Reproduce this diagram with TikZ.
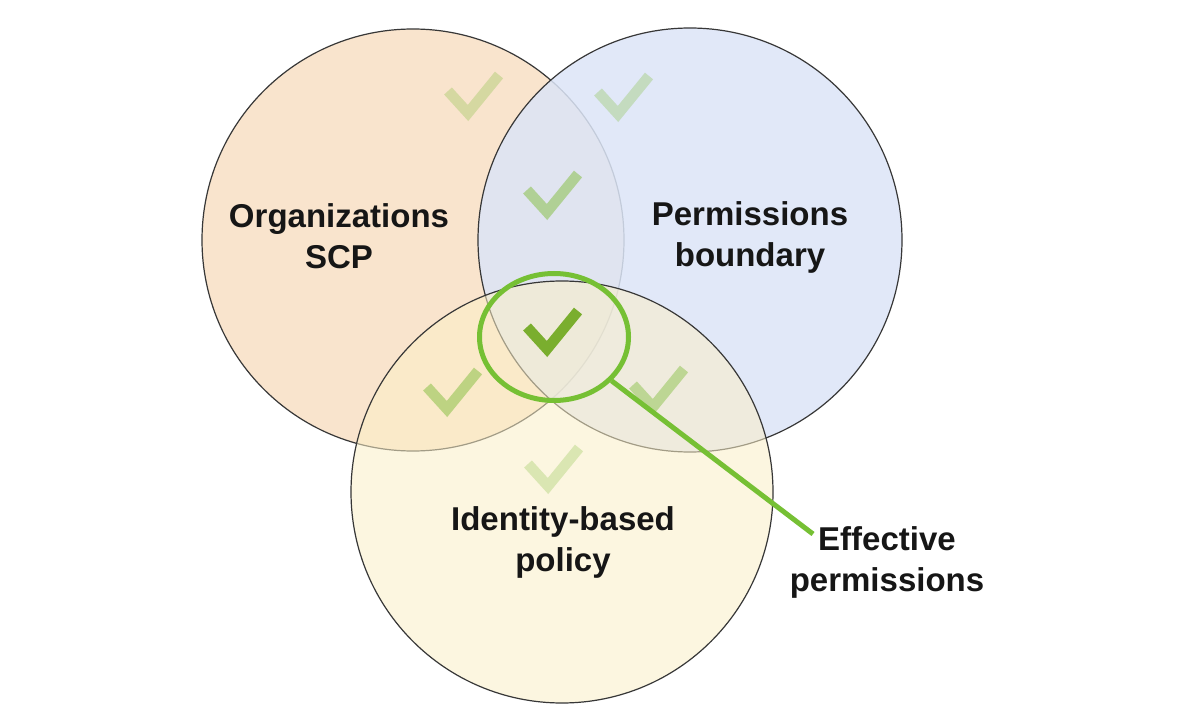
\documentclass[tikz,border=0pt]{standalone}
\usepackage{fontspec}
\setmainfont{Liberation Sans}
\usetikzlibrary{shapes.geometric}
\definecolor{scpfill}{RGB}{249,228,205}
\definecolor{pbfill}{RGB}{220,229,247}
\definecolor{idfill}{RGB}{251,239,199}
\definecolor{rimcol}{RGB}{55,55,55}
\definecolor{tickgreen}{RGB}{130,190,60}
\definecolor{darktick}{RGB}{122,174,46}
\definecolor{effgreen}{RGB}{118,192,52}
\definecolor{txtcol}{RGB}{22,22,22}
\begin{document}
\begin{tikzpicture}[x=1pt,y=-1pt,
  setcircle/.style={circle, draw=rimcol, line width=1.2pt, minimum size=#1, inner sep=0pt, outer sep=0pt},
  lbl/.style={font=\bfseries\fontsize{33}{41}\selectfont, align=center, text=txtcol, inner sep=0pt},
  tick/.style={line width=10.5pt, line cap=butt, line join=miter},
  effring/.style={ellipse, draw=effgreen, line width=5pt, minimum width=149pt, minimum height=127pt, inner sep=0pt},
  effline/.style={draw=effgreen, line width=5pt},
  pics/chk/.style={code={\draw[tick] (-20,-22) -- (0,0) -- (31,-38);}}
]
\fill[white] (0,0) rectangle (1202,722);
\useasboundingbox (0,0) rectangle (1202,722);

% circles
\node[setcircle=422pt, fill=scpfill] (scp) at (413,240) {};
\node[setcircle=424pt, fill=pbfill, fill opacity=0.85] (pb) at (690,240) {};
\node[setcircle=422pt, fill=idfill, fill opacity=0.55] (id) at (562,492) {};

% check marks
\pic[draw=tickgreen, draw opacity=0.3] at (468,113) {chk};
\pic[draw=tickgreen, draw opacity=0.3] at (618,114) {chk};
\pic[draw=tickgreen, draw opacity=0.5] at (547,212) {chk};
\pic[draw=tickgreen, draw opacity=0.5] at (447,409) {chk};
\pic[draw=tickgreen, draw opacity=0.45] at (653,407) {chk};
\pic[draw=tickgreen, draw opacity=0.28] at (548,486) {chk};
\pic[draw=darktick] at (547,349) {chk};

% labels
\node[lbl] (scplbl) at (339,236) {Organizations\\SCP};
\node[lbl] (pblbl) at (750,237) {Permissions\\boundary};
\node[lbl] (idlbl) at (563,542) {Identity-based\\policy};
\node[lbl] (efflbl) at (887,562) {Effective\\permissions};

% effective permissions ring and pointer
\node[effring] (eff) at (554,337) {};
\coordinate (effend) at ([shift={(-74,-28)}]efflbl.center);
\draw[effline] (eff) -- (effend);
\end{tikzpicture}
\end{document}
